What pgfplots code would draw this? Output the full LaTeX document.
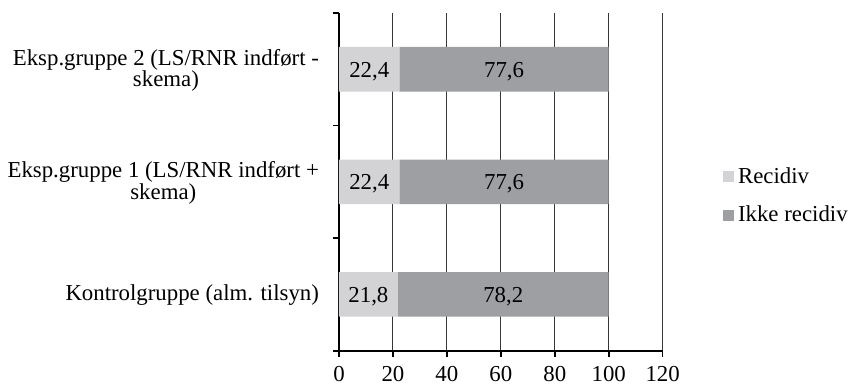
\documentclass[border=0pt]{standalone}
\usepackage{fontspec}
\setmainfont{Liberation Serif}
\usepackage{pgfplots}
\usepackage{pgfplotstable}
\pgfplotsset{compat=1.18}
\definecolor{recidiv}{RGB}{211,211,213}
\definecolor{ikkerecidiv}{RGB}{158,159,162}
\definecolor{gridgray}{RGB}{55,55,55}
\newcommand\chartfont{\fontsize{11.45}{10.85}\selectfont}

% Andel (%) med og uden recidiv pr. gruppe
\pgfplotstableread{
y rec  ikke
0 21.8 78.2
1 22.4 77.6
2 22.4 77.6
}\recdata

\pgfplotsset{
  frame/.style={
    at={(0,0)}, anchor=south west,
    scale only axis, width=161.85bp, height=168.85bp,
    xmin=0, xmax=120, ymin=-0.5, ymax=2.5,
  },
}

\begin{document}
\begin{tikzpicture}
\path[use as bounding box] (-169.5bp,-17.65bp) rectangle (254.5bp,175.35bp);
\begin{axis}[
  frame,
  xbar stacked, bar width=22.3bp,
  xtick={0,20,...,120},
  ytick={0,1,2},
  yticklabels={{Kontrolgruppe (alm. tilsyn)},{Eksp.gruppe 1 (LS/RNR indført +\\skema)},{Eksp.gruppe 2 (LS/RNR indført -\\skema)}},
  minor ytick={-0.5,0.5,1.5,2.5},
  major y tick style={draw=none},
  tick align=outside, major tick length=3bp, minor tick length=3bp,
  tick style={black, line width=0.8bp},
  axis x line*=bottom, axis y line*=left,
  axis line style={black, line width=1bp},
  xmajorgrids, major grid style={gridgray, line width=0.5bp},
  /pgf/number format/assume math mode=true,
  ticklabel style={font=\chartfont, text=black},
  xticklabel style={yshift=-1.5bp},
  yticklabel style={align=center, xshift=-3.5bp, yshift=-0.5bp},
  legend style={at={(rel axis cs:1,0.458)}, anchor=west, xshift=27bp,
    draw=none, fill=none, font=\chartfont, row sep=6bp,
    legend cell align=left},
  legend image code/.code={\fill[#1] (0bp,-2.75bp) rectangle (5.5bp,2.75bp);},
]
\addplot[fill=recidiv, draw=none] table[x=rec, y=y] {\recdata};
\addlegendentry{Recidiv}
\addplot[fill=ikkerecidiv, draw=none] table[x=ikke, y=y] {\recdata};
\addlegendentry{Ikke recidiv}
\end{axis}
% value labels, centred in each segment
\begin{axis}[
  frame, hide axis,
  nodes near coords={\pgfmathprintnumber[use comma,fixed,fixed zerofill,precision=1,assume math mode=true]{\pgfplotspointmeta}},
  every node near coord/.append style={anchor=center, font=\chartfont, text=black, yshift=-1bp},
  point meta=explicit,
]
\addplot[draw=none, mark=none] table[x expr=\thisrow{rec}/2, y=y, meta=rec] {\recdata};
\addplot[draw=none, mark=none] table[x expr=\thisrow{rec}+\thisrow{ikke}/2, y=y, meta=ikke] {\recdata};
\end{axis}
\end{tikzpicture}
\end{document}
